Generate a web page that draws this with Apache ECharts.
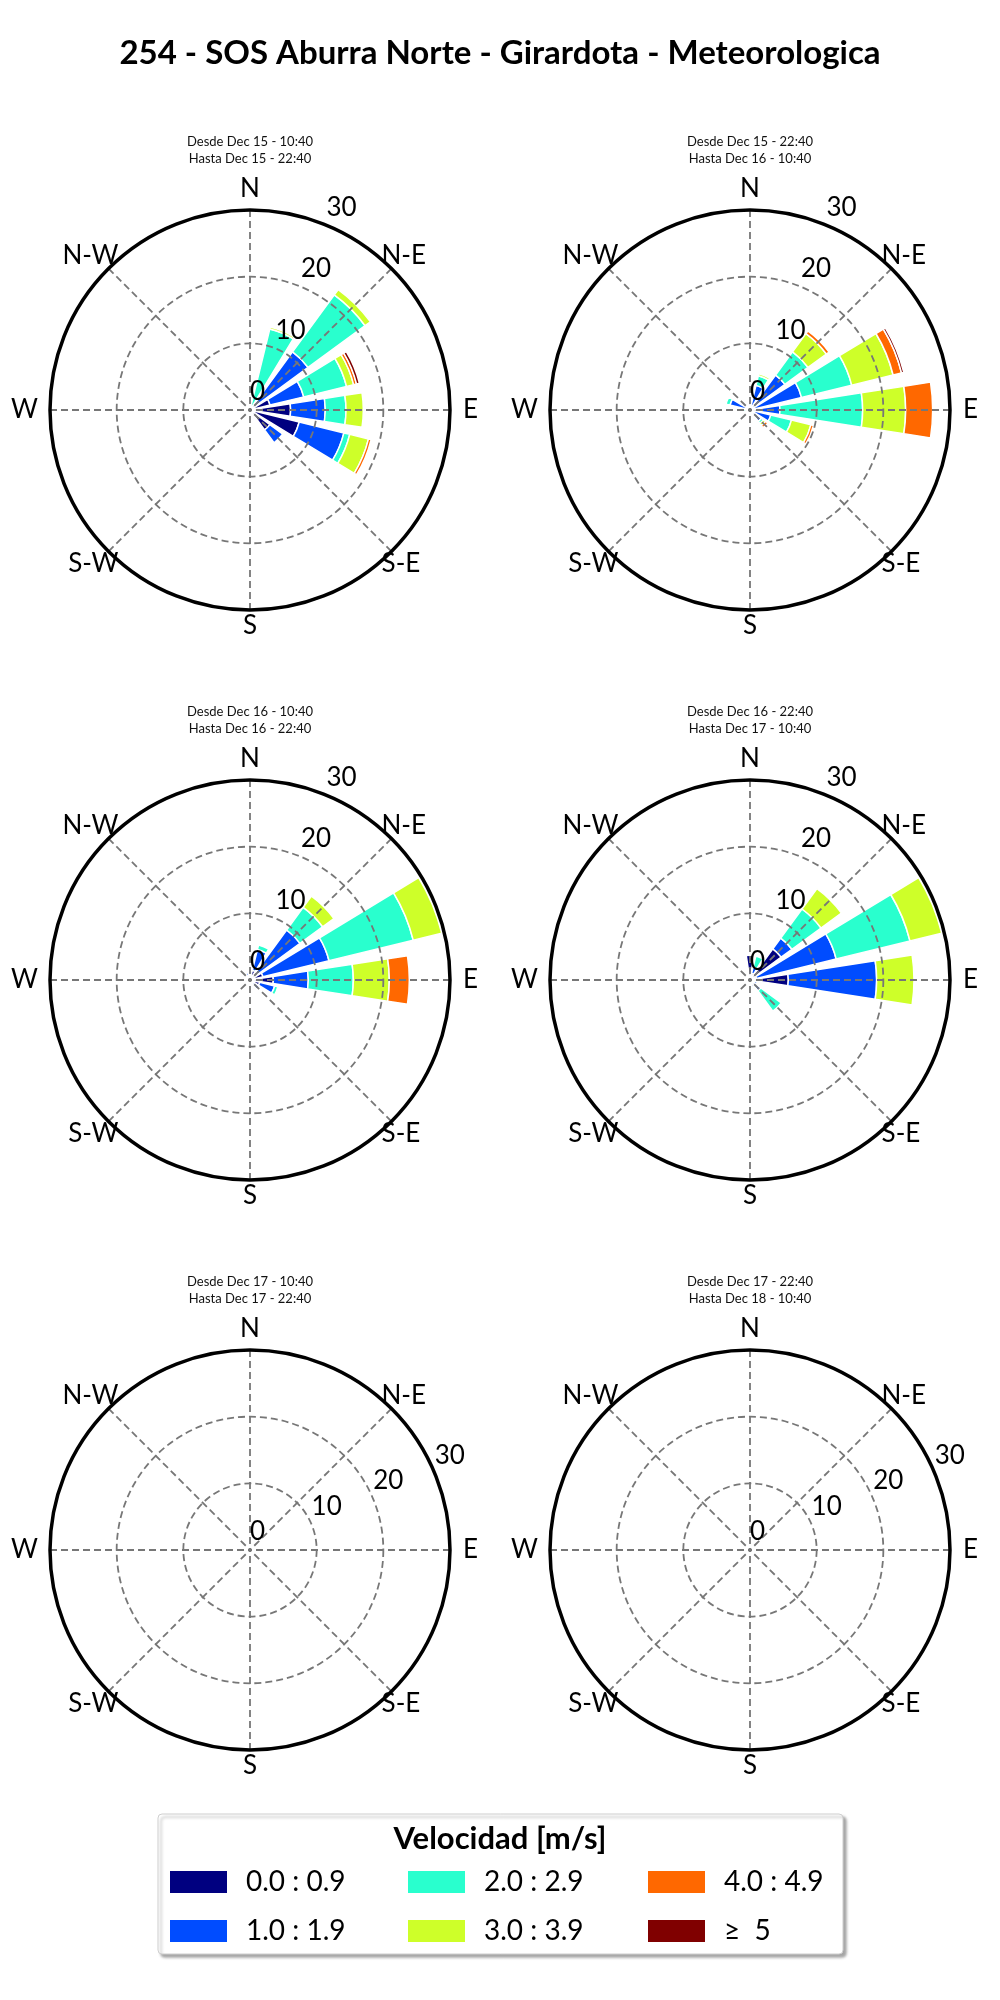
<!DOCTYPE html>
<html><head><meta charset="utf-8">
<script src="https://cdn.jsdelivr.net/npm/echarts@6/dist/echarts.min.js"></script>
<style>html,body{margin:0;padding:0;background:#fff}#c{width:1000px;height:2000px}</style>
</head><body><div id="c"></div>
<script>
// ---------------- data ----------------
const directions = ['N','NNE','NE','ENE','E','ESE','SE','SSE','S','SSW','SW','WSW','W','WNW','NW','NNW'];
const speedBins = ['0.0 : 0.9','1.0 : 1.9','2.0 : 2.9','3.0 : 3.9','4.0 : 4.9','\u2265  5'];
const compassLabels = ['N','N-E','E','S-E','S','S-W','W','N-W'];
const radialTicks = [0, 10, 20, 30];
const periodFrom = ['Dec 15 - 10:40','Dec 15 - 22:40','Dec 16 - 10:40','Dec 16 - 22:40','Dec 17 - 10:40','Dec 17 - 22:40'];
const periodTo   = ['Dec 15 - 22:40','Dec 16 - 10:40','Dec 16 - 22:40','Dec 17 - 10:40','Dec 17 - 22:40','Dec 18 - 10:40'];

// frequency (%) : rows = speed bins, columns = directions (N ... NNW)
const freqP1 = [
  [0,   0,    0.5,  3.1,  6.1,  7.6, 3.7, 0,   0, 0, 0, 0, 0, 0, 0, 0],
  [0,   0.3, 10.3,  5.2,  5.2,  6.9, 2.4, 0,   0, 0, 0, 0, 0, 0, 0, 0],
  [0.3,12.2, 10.6,  6.6,  3.1,  0.9, 0,   0,   0, 0, 0, 0, 0, 0, 0, 0],
  [0,   0.3,  1.0,  1.1,  2.6,  2.9, 0,   0,   0, 0, 0, 0, 0, 0, 0, 0],
  [0,   0,    0,    0.45, 0,    0.4, 0,   0,   0, 0, 0, 0, 0, 0, 0, 0],
  [0,   0,    0,    0.45, 0,    0,   0,   0,   0, 0, 0, 0, 0, 0, 0, 0]
];
const freqP2 = [
  [0.3, 0.3, 0.3, 0.5,  1.5,  0.5, 0.5, 0,   0.3, 0,   0, 0, 0.3, 0.3, 0, 0],
  [0.8, 3.5, 6.2, 7.45, 3.0,  2.7, 1.6, 0.5, 0.3, 0.5, 0, 0, 0.3, 2.8, 0, 0.5],
  [0,   1.5, 4.3, 7.75, 12.4, 3.2, 0.4, 0,   0,   0,   0, 0, 0.6, 0.6, 0, 0],
  [0,   0.3, 3.4, 6.4,  6.45, 3.0, 0.4, 0,   0,   0,   0, 0, 0,   0,   0, 0],
  [0,   0,   0.5, 1.3,  4.05, 0.4, 0.4, 0,   0,   0,   0, 0, 0,   0,   0, 0],
  [0,   0,   0,   0.35, 0,    0,   0,   0,   0,   0,   0, 0, 0,   0,   0, 0]
];
const freqP3 = [
  [0.8, 1.5, 1.5, 2.0,  3.5,  1.5, 0.5, 0, 0, 0, 0, 0, 0, 0, 0, 0.3],
  [0.5, 3.2, 7.8, 10.2, 5.25, 2.3, 1.2, 0, 0, 0, 0, 0, 0, 0, 0, 0.8],
  [0,   0.7, 4.2, 13.0, 6.75, 0.5, 0,   0, 0, 0, 0, 0, 0, 0, 0, 0],
  [0,   0,   2.1, 4.4,  5.4,  0,   0,   0, 0, 0, 0, 0, 0, 0, 0, 0],
  [0,   0,   0,   0,    3.0,  0,   0,   0, 0, 0, 0, 0, 0, 0, 0, 0],
  [0,   0,   0,   0,    0,    0,   0,   0, 0, 0, 0, 0, 0, 0, 0, 0]
];
const freqP4 = [
  [3.7, 1.0, 5.8, 1.0,  5.75,  0.3, 0.5, 0,   0, 0, 0, 0, 0, 0, 0, 0],
  [0,   1.0, 2.0, 12.3, 13.25, 0.8, 1.5, 1.0, 0, 0, 0, 0, 0, 0, 0, 0],
  [0,   1.7, 5.4, 11.4, 0,     0,   3.8, 0,   0, 0, 0, 0, 0, 0, 0, 0],
  [0,   0,   3.8, 4.9,  5.6,   0,   0,   0,   0, 0, 0, 0, 0, 0, 0, 0],
  [0,   0,   0,   0,    0,     0,   0,   0,   0, 0, 0, 0, 0, 0, 0, 0],
  [0,   0,   0,   0,    0,     0,   0,   0,   0, 0, 0, 0, 0, 0, 0, 0]
];
const freqP5 = []; // no observations
const freqP6 = []; // no observations
const periods = [freqP1, freqP2, freqP3, freqP4, freqP5, freqP6];

// ---------------- style / layout ----------------
const binColors = ['#000080','#004cff','#29ffce','#ceff29','#ff6800','#800000'];
const FONT = 'Lato';
const colX = [250, 750];
const rowY = [410, 980, 1550];
const R = 200;
const rLabelStart = [67.5, 67.5, 67.5, 67.5, 22.5, 22.5]; // math angle of radial labels
const gridLine = {color: '#777', width: 1.8, type: [7, 4]};

const polar = [], angleAxis = [], radiusAxis = [], series = [];
const titles = [{
  text: '254 - SOS Aburra Norte - Girardota - Meteorologica',
  left: 'center', top: 37, padding: 0,
  textStyle: {fontFamily: FONT, fontSize: 33, fontWeight: 'bold', color: '#000'}
}];

const compassRich = {
  n: {padding: [0, 0, 22, 0]}, s: {padding: [17, 0, 0, 0]},
  e: {padding: [0, 0, 0, 27]}, w: {padding: [0, 26, 0, 0]},
  up: {padding: [0, 0, 10, 0]}, dn: {padding: [9, 0, 0, 0]}
};
const compassStyle = ['n','up','e','dn','s','dn','w','up'];

periods.forEach((freq, k) => {
  const cx = colX[k % 2], cy = rowY[Math.floor(k / 2)];
  const g = 3 * k;
  polar.push({center: [cx, cy], radius: R}, {center: [cx, cy], radius: R}, {center: [cx, cy], radius: R});

  // grid polar
  angleAxis.push({
    polarIndex: g, type: 'value', min: 0, max: 360, interval: 45,
    startAngle: 90, clockwise: true, z: 6,
    axisLine: {show: true, lineStyle: {color: '#000', width: 3.5}},
    axisTick: {show: false},
    splitLine: {show: true, lineStyle: gridLine},
    axisLabel: {
      show: true, margin: -14, color: '#000', fontSize: 26, fontFamily: FONT,
      formatter: v => { const i = Math.round(v / 45) % 8; return '{' + compassStyle[i] + '|' + compassLabels[i] + '}'; },
      rich: Object.fromEntries(Object.entries(compassRich).map(([key, s]) =>
        [key, Object.assign({fontSize: 26, fontFamily: FONT, color: '#000'}, s)]))
    }
  });
  radiusAxis.push({
    polarIndex: g, type: 'value', min: radialTicks[0], max: radialTicks[radialTicks.length - 1],
    interval: radialTicks[1] - radialTicks[0], z: 5,
    axisLine: {show: false}, axisTick: {show: false}, axisLabel: {show: false},
    splitLine: {show: true, lineStyle: gridLine}
  });

  // bar polar
  angleAxis.push({
    polarIndex: g + 1, type: 'category', data: directions,
    startAngle: 90 + 180 / directions.length, clockwise: true, show: false
  });
  radiusAxis.push({
    polarIndex: g + 1, type: 'value', min: radialTicks[0], max: radialTicks[radialTicks.length - 1], show: false
  });

  // radial label polar
  angleAxis.push({
    polarIndex: g + 2, type: 'value', min: 0, max: 360, startAngle: rLabelStart[k], clockwise: true, show: false
  });
  radiusAxis.push({
    polarIndex: g + 2, type: 'value', min: radialTicks[0], max: radialTicks[radialTicks.length - 1],
    interval: radialTicks[1] - radialTicks[0], z: 7,
    axisLine: {show: false}, axisTick: {show: false}, splitLine: {show: false},
    axisLabel: {show: true, margin: 0, align: 'left', verticalAlign: 'bottom', lineHeight: 36,
      fontSize: 26, color: '#000', fontFamily: FONT}
  });

  freq.forEach((row, b) => {
    series.push({
      type: 'bar', coordinateSystem: 'polar', polarIndex: g + 1,
      name: speedBins[b], stack: 'rose' + k,
      data: row.map(v => v > 0 ? v : '-'),
      barCategoryGap: '22%', silent: true, z: 2,
      itemStyle: {color: binColors[b], borderColor: '#fff', borderWidth: 1.5}
    });
  });

  titles.push({
    text: 'Desde ' + periodFrom[k] + '\nHasta ' + periodTo[k],
    left: cx, top: cy - 277, textAlign: 'center', padding: 0,
    textStyle: {fontFamily: FONT, fontSize: 13, fontWeight: 'normal', color: '#111', lineHeight: 17}
  });
});

titles.push({
  text: 'Velocidad [m/s]', left: 500, top: 1823, textAlign: 'center', padding: 0,
  textStyle: {fontFamily: FONT, fontSize: 31, fontWeight: 'bold', color: '#000'}
});

const legendCols = [170, 408, 648];
const legend = legendCols.map((x, c) => ({
  orient: 'vertical', left: x, top: 1868, padding: 0,
  data: [speedBins[2 * c], speedBins[2 * c + 1]],
  icon: 'rect', itemWidth: 57, itemHeight: 22, itemGap: 21,
  itemStyle: {borderWidth: 0},
  textStyle: {fontFamily: FONT, fontSize: 28, color: '#000', padding: [0, 0, 0, 14]},
  selectedMode: false
}));

const chart = echarts.init(document.getElementById('c'), null, {renderer: 'canvas'});
chart.setOption({
  backgroundColor: '#fff',
  animation: false,
  title: titles,
  polar, angleAxis, radiusAxis, series, legend,
  graphic: [{
    type: 'rect', z: 0,
    shape: {x: 158, y: 1814, width: 685, height: 140, r: 4},
    style: {fill: '#fff', stroke: '#cfcfcf', lineWidth: 1,
      shadowBlur: 3, shadowOffsetX: 3, shadowOffsetY: 3, shadowColor: 'rgba(0,0,0,0.35)'}
  }]
});
</script></body></html>
